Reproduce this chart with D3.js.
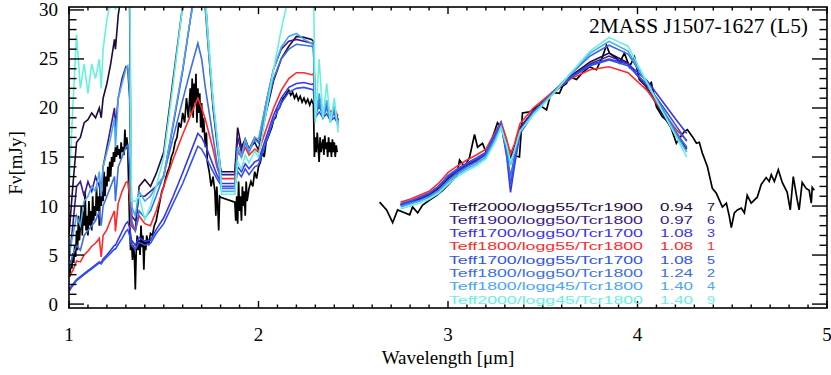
<!DOCTYPE html>
<html><head><meta charset="utf-8">
<script src="https://cdn.jsdelivr.net/npm/d3@7"></script>
<style>body{margin:0;background:#fff}svg{display:block}</style>
</head><body>
<svg id="c" width="831" height="375"></svg>
<script>
// ---------- DATA ----------
const title = "2MASS J1507-1627 (L5)";
const xTicks = [1, 2, 3, 4, 5];
const yTicks = [0, 5, 10, 15, 20, 25, 30];

// model wavelength grids (micron)
const wL = [1.00,1.02,1.04,1.06,1.08,1.10,1.12,1.14,1.16,1.17,1.18,1.20,1.22,1.24,1.245,1.26,1.28,1.30,1.31,1.32,1.33,1.35,1.37,1.40,1.43,1.46,1.50,1.55,1.60,1.64,1.68,1.70,1.72,1.74,1.76,1.78,1.80,1.805,1.875,1.89,1.91,1.93,1.95,1.98,2.00,2.04,2.08,2.12,2.16,2.20,2.24,2.28,2.29,2.30,2.32,2.34,2.36,2.38,2.40,2.42];
const wR = [2.75,2.80,2.85,2.90,2.95,3.00,3.05,3.10,3.15,3.20,3.25,3.28,3.31,3.33,3.35,3.38,3.45,3.55,3.65,3.75,3.85,3.95,4.05,4.15,4.20,4.26];

// model fluxes (mJy)
const m2000g55L = [7.0,12.0,16.5,17.0,18.5,18.8,19.5,19.0,20.0,19.0, 21.0,22.5,24.5,27.0,26.0,29.5,32,34,34,30, 8.0,7.5,12.0,12.7,12.0,13.3,15.5,23.0,30.5,34, 37,36,31,25.5,20.5,17.0,13.8,13.5,13.5,18.0, 16.0,16.8,15.8,16.5,15.7,19.5,22.8,25.0,26.3,27.3, 27.2,27.0,26.8,19.8,20.8,19.5,20.3,19.0,19.8,18.8];
const m1900g50L = [4.5,8.0,12.0,12.5,11.0,12.5,11.5,13.0,12.0,11.0, 14.0,16.0,18.0,20.0,18.0,21.0,23.0,24.2,24.0,21.0, 9.0,8.5,11.0,11.0,11.5,12.0,13.0,18.3,23.8,29.0, 34,33,30,25,20.0,16.5,13.5,13.2,13.2,17.0, 15.5,16.8,15.8,17.0,16.5,20.5,24.0,26.0,26.8,27.0, 26.8,26.6,26.5,19.5,21.0,19.3,20.5,19.0,20.0,18.6];
const m1700g50L = [1.5,2.0,2.5,2.8,3.1,3.4,3.7,4.0,4.3,4.2, 4.6,5.0,5.5,6.0,6.0,6.6,7.4,8.2,8.4,7.8, 6.5,6.0,6.8,6.4,6.5,7.6,8.8,11.0,13.4,15.4, 17.4,17.0,16.2,15.2,14.2,13.2,12.5,12.3,12.3,14.0, 13.5,14.3,13.8,14.5,14.7,17.0,19.3,21.0,22.1,22.5, 22.6,22.4,22.5,19.5,20.1,19.5,19.9,19.2,19.5,18.8];
const m1800g55L = [2.8,3.4,4.4,4.3,5.0,5.4,5.9,6.2,6.7,4.8, 7.0,7.6,8.6,9.5,7.4,10.3,11.5,12.4,12.5,11.0, 8.0,7.5,9.0,8.2,8.0,9.5,12.0,14.8,17.3,19.2, 21.0,20.0,18.8,17.3,15.8,14.0,13.0,12.8,12.8,15.5, 15.0,16.0,15.2,15.8,15.5,17.8,20.0,21.8,23.0,23.6, 23.6,23.4,23.5,20.0,20.6,19.8,20.3,19.6,19.9,19.2];
const m1700g55L = [1.3,1.9,2.4,2.7,3.0,3.3,3.6,3.9,4.2,4.1, 4.4,4.8,5.2,5.6,5.6,6.1,6.7,7.4,7.6,7.0, 6.0,5.6,6.3,6.0,6.2,7.2,8.2,10.3,12.3,14.2, 16.1,15.8,15.1,14.3,13.5,12.8,12.2,12.0,12.0,13.5, 13.0,13.8,13.2,14.0,14.2,16.5,18.8,20.5,21.6,22.0, 22.1,21.9,21.8,19.0,19.6,19.0,19.4,18.7,19.0,18.4];
const m1800g50L = [3.5,5.0,6.0,5.5,7.0,7.5,8.0,8.5,9.5,8.0, 10.0,11.0,12.0,13.0,10.5,14.0,15.0,16.0,16.2,14.0, 8.5,7.5,9.5,8.8,9.5,11.0,13.2,17.0,20.8,23.8, 26.6,25.0,22.0,19.5,17.0,14.5,12.5,11.8,11.8,16.0, 15.0,16.5,15.5,16.8,16.5,20.0,23.0,25.0,26.0,26.5, 26.4,26.3,26.2,19.2,20.5,19.0,20.0,18.8,19.5,18.3];
const m1800g45L = [5.0,7.0,9.0,8.0,10.5,11.0,12.0,11.5,13.5,11.0, 14.0,15.5,17.0,19.0,16.0,21.0,22.5,24.0,24.3,22.0, 10.0,9.0,11.5,10.5,11.0,12.0,13.0,18.5,24.0,29.0, 33,33,30,25,20.5,17.0,13.0,11.5,11.5,16.0, 15.0,16.8,15.6,17.0,16.8,20.5,24.0,26.2,27.3,27.6, 27.0,26.6,26.3,19.0,21.5,19.0,20.8,18.5,20.2,18.0];
const m2000g45L = [11.5,20.0,27.5,22.0,24.5,21.5,24.5,23.0,25.0,22.0, 26.0,29.0,31,33,30,35,36,37,37,34, 10.5,10.5,11.0,8.6,10.0,12.0,15.0,22.5,30.5,34, 36,35,31,26,21,17.5,13.5,11.2,11.2,14.5, 13.8,15.2,14.4,15.6,15.0,19.5,24.0,28.0,31.5,33, 33,33,33,18.5,25.0,19.0,22.5,18.5,21.0,17.5];

const m2000g55R = [10.1,10.4,10.7,11.1,11.8,12.8,13.5,14.1,14.6,15.3,17.1,18.3,16.5,14.8,16.0,18.0,19.7,21.6,23.3,24.7,25.6,24.6,22.0,18.8,17.3,15.8];
const m1900g50R = [10.1,10.4,10.8,11.2,11.9,12.9,13.6,14.2,14.7,15.4,17.2,18.3,16.3,14.5,15.8,17.9,19.7,21.5,23.2,24.5,25.3,24.5,22.1,19.0,17.5,16.0];
const m1700g50R = [10.2,10.5,10.9,11.3,12.0,13.0,13.7,14.3,14.8,15.4,17.3,18.4,15.0,11.4,14.0,17.4,19.4,21.4,23.2,24.4,25.0,24.5,22.8,20.2,18.9,17.4];
const m1800g55R = [10.4,10.7,11.1,11.5,12.3,13.4,14.1,14.7,15.2,15.8,17.6,18.6,16.8,15.3,16.3,18.4,20.0,21.6,23.0,23.9,24.2,23.6,21.8,19.2,17.9,16.7];
const m1700g55R = [10.2,10.5,10.9,11.3,12.0,13.1,13.8,14.4,14.9,15.5,17.4,18.5,15.4,12.2,14.5,17.6,19.6,21.5,23.1,24.3,24.9,24.3,22.4,19.7,18.3,16.6];
const m1800g50R = [10.0,10.3,10.6,11.0,11.6,12.6,13.4,14.0,14.5,15.2,17.0,18.2,15.5,13.0,15.0,17.6,19.5,21.5,23.5,25.3,26.4,25.5,22.6,19.3,17.7,15.9];
const m1800g45R = [9.9,10.2,10.5,10.9,11.5,12.4,13.2,13.8,14.3,15.0,16.8,18.1,16.0,14.2,15.5,17.7,19.4,21.4,23.6,25.6,26.8,25.8,22.5,19.1,17.4,15.5];
const m2000g45R = [9.7,10.0,10.3,10.7,11.3,12.2,13.0,13.6,14.1,14.8,16.6,18.0,16.2,14.5,15.6,17.6,19.3,21.3,23.6,25.8,27.2,26.3,22.6,19.0,17.2,15.0];

// observed spectrum: wavelength, flux
const obsLw = [1.000,1.005,1.010,1.015,1.020,1.025,1.030,1.035,1.040,1.045,1.050,1.055,1.060,1.065,1.070,1.075,1.080,1.085,1.090,1.095,1.100,1.105,1.110,1.115,1.120,1.125,1.130,1.135,1.140,1.145,1.150,1.155,1.160,1.165,1.170,1.175,1.180,1.185,1.190,1.195,1.200,1.205,1.210,1.215,1.220,1.225,1.230,1.235,1.240,1.245,1.250,1.255,1.260,1.265,1.270,1.275,1.280,1.285,1.290,1.295,1.300,1.305,1.310,1.315,1.320,1.325,1.330,1.335,1.340,1.345,1.350,1.355,1.360,1.365,1.370,1.375,1.380,1.385,1.390,1.395,1.400,1.405,1.410,1.420,1.430,1.440,1.450,1.460,1.470,1.480,1.490,1.500,1.510,1.520,1.530,1.540,1.550,1.560,1.570,1.580,1.590,1.600,1.610,1.620,1.630,1.640,1.645,1.650,1.655,1.660,1.665,1.670,1.675,1.680,1.685,1.690,1.695,1.700,1.705,1.710,1.720,1.725,1.730,1.740,1.750,1.760,1.770,1.775,1.780,1.785,1.790,1.795,1.800,1.875,1.880,1.885,1.890,1.895,1.900,1.905,1.910,1.915,1.920,1.925,1.930,1.935,1.940,1.950,1.960,1.970,1.980,1.990,2.000,2.010,2.020,2.030,2.040,2.050,2.060,2.070,2.080,2.090,2.100,2.110,2.120,2.130,2.140,2.150,2.160,2.170,2.180,2.190,2.200,2.210,2.220,2.230,2.240,2.250,2.260,2.270,2.280,2.290,2.295,2.300,2.305,2.310,2.315,2.320,2.325,2.330,2.340,2.345,2.350,2.355,2.360,2.365,2.370,2.375,2.380,2.385,2.390,2.395,2.400,2.405,2.410,2.415];
const obsLf = [4.0,2.8,4.5,3.6,5.2,4.2,6.0,4.8,7.5,5.5,9.0,6.5,8.0,10.0,7.0,9.5,8.0,11.5,7.5,9.0,7.0,10.5,8.0,9.5,7.5,11.0,8.5,10.0,9.0,12.0,9.5,11.0,8.0,12.5,10.0,11.5,10.5,13.5,11.0,13.0,12.0,14.0,12.5,14.5,13.0,15.0,14.0,15.5,14.5,16.0,15.0,16.2,15.2,15.8,14.8,16.5,15.5,16.0,15.2,17.8,15.8,17.0,16.0,12.0,8.0,5.5,6.5,4.5,6.0,5.0,1.5,5.5,7.0,5.5,6.5,5.0,8.0,5.8,7.0,3.5,6.5,5.5,7.0,6.0,7.2,7.0,8.0,8.5,9.5,10.5,11.5,12.0,12.8,13.5,14.0,15.0,15.5,16.5,17.0,18.5,18.0,19.5,18.5,21.0,19.0,22.0,19.5,23.0,19.0,22.5,20.5,23.5,18.5,22.0,19.5,21.5,18.0,20.5,17.5,19.0,16.0,17.5,14.5,13.5,12.0,13.0,11.5,9.0,12.0,10.0,7.5,11.0,10.9,10.4,8.5,11.0,8.2,12.5,9.5,11.0,8.5,12.0,10.0,11.5,9.0,12.5,10.5,11.8,12.5,12.0,13.5,12.8,14.0,14.5,15.5,15.0,16.5,17.0,17.5,18.0,18.8,19.0,19.8,20.0,20.5,21.0,21.2,21.5,21.8,21.3,21.6,21.0,21.4,20.8,21.2,20.6,21.0,20.5,20.9,20.3,20.8,20.4,15.0,17.0,15.5,17.5,16.0,14.5,17.0,15.5,16.8,15.2,17.2,15.8,16.5,15.0,17.0,15.5,16.5,15.0,16.8,15.5,16.5,15.0,16.2,15.5];
const obsRw = [2.639,2.676,2.708,2.734,2.761,2.798,2.813,2.840,2.866,2.903,2.940,2.972,3.008,3.045,3.061,3.088,3.114,3.140,3.156,3.182,3.203,3.235,3.261,3.288,3.314,3.341,3.377,3.393,3.430,3.483,3.520,3.536,3.551,3.588,3.604,3.625,3.641,3.678,3.710,3.746,3.783,3.815,3.836,3.852,3.889,3.905,3.931,3.957,3.984,4.010,4.047,4.073,4.100,4.131,4.168,4.205,4.221,4.247,4.263,4.289,4.311,4.326,4.342,4.369,4.395,4.416,4.432,4.448,4.469,4.485,4.495,4.511,4.527,4.548,4.564,4.579,4.600,4.616,4.632,4.653,4.679,4.695,4.706,4.722,4.743,4.764,4.790,4.806,4.822,4.843,4.853,4.869,4.890,4.906,4.917,4.922,4.933];
const obsRf = [10.4,9.6,8.3,9.6,9.4,9.1,9.9,9.3,10.1,10.6,11.1,11.6,12.3,13.0,14.7,14.0,15.0,17.3,16.0,16.4,15.4,17.0,18.5,17.8,16.0,15.2,15.0,19.5,19.6,20.3,19.8,21.0,21.6,21.5,22.2,22.5,23.2,22.9,23.6,24.2,23.9,25.2,26.4,25.6,25.1,24.6,25.6,24.2,25.2,22.9,22.2,22.6,20.1,19.1,18.5,16.4,16.9,17.6,17.8,17.1,16.4,16.5,15.4,14.0,11.8,11.3,10.6,9.9,10.3,8.9,7.8,9.3,9.6,9.8,9.3,11.1,10.3,10.6,10.9,12.2,12.9,12.5,13.2,12.5,13.7,12.4,11.4,9.6,13.0,10.6,9.6,12.4,11.8,11.6,10.3,11.9,11.6];

const legendLabels = ["Teff2000/logg55/Tcr1900","Teff1900/logg50/Tcr1800","Teff1700/logg50/Tcr1700","Teff1800/logg55/Tcr1800","Teff1700/logg55/Tcr1700","Teff1800/logg50/Tcr1800","Teff1800/logg45/Tcr1800","Teff2000/logg45/Tcr1800"];
const legendScale = ["0.94","0.97","1.08","1.08","1.08","1.24","1.40","1.40"];
const legendRank = ["7","6","3","1","5","2","4","9"];
const colors = ["#1f0a3d","#3b1a8f","#3a34f0","#ff2a2a","#2e54e8","#3d6ee6","#4aa6f0","#68f0df"];

// ---------- CHART ----------
const svg = d3.select("#c");
const X0 = 69, X1 = 827, Y0 = 7, Y1 = 308;
const x = d3.scaleLinear().domain([1, 5]).range([X0, X1]);
const y = d3.scaleLinear().domain([-0.4, 30.3]).range([Y1, Y0]);

svg.append("clipPath").attr("id","pc").append("rect")
  .attr("x", X0).attr("y", Y0).attr("width", X1 - X0).attr("height", Y1 - Y0);

const plot = svg.append("g").attr("clip-path","url(#pc)");
const line = d3.line().x(d => x(d[0])).y(d => y(d[1]));
const zip = (a, b) => a.map((v, i) => [v, b[i]]);

// observed
plot.append("path").datum(zip(obsLw, obsLf)).attr("d", line)
  .attr("fill","none").attr("stroke","#000").attr("stroke-width",1.7);
plot.append("path").datum(zip(obsRw, obsRf)).attr("d", line)
  .attr("fill","none").attr("stroke","#000").attr("stroke-width",1.7);

const modelsL = [m2000g55L, m1900g50L, m1700g50L, m1800g55L, m1700g55L, m1800g50L, m1800g45L, m2000g45L];
const modelsR = [m2000g55R, m1900g50R, m1700g50R, m1800g55R, m1700g55R, m1800g50R, m1800g45R, m2000g45R];
modelsL.forEach((m, i) => {
  plot.append("path").datum(zip(wL, m)).attr("d", line)
    .attr("fill","none").attr("stroke", colors[i]).attr("stroke-width",1.6);
});
modelsR.forEach((m, i) => {
  plot.append("path").datum(zip(wR, m)).attr("d", line)
    .attr("fill","none").attr("stroke", colors[i]).attr("stroke-width",1.6);
});

// axes frame and ticks
const ax = svg.append("g").attr("stroke","#000").attr("stroke-width",1.4);
ax.append("rect").attr("x",X0).attr("y",Y0).attr("width",X1-X0).attr("height",Y1-Y0).attr("fill","none").attr("stroke-width",1.6);
const xMinor = d3.range(10, 51).map(v => v / 10);
xMinor.forEach(v => {
  const major = Math.abs(v - Math.round(v)) < 1e-9;
  const L = major ? 7 : 3.5;
  ax.append("line").attr("x1", x(v)).attr("x2", x(v)).attr("y1", Y1).attr("y2", Y1 - L);
  ax.append("line").attr("x1", x(v)).attr("x2", x(v)).attr("y1", Y0).attr("y2", Y0 + L);
});
d3.range(0, 31).forEach(v => {
  const major = v % 5 === 0;
  const L = major ? 15 : 7.5;
  ax.append("line").attr("x1", X0).attr("x2", X0 + L).attr("y1", y(v)).attr("y2", y(v));
  ax.append("line").attr("x1", X1).attr("x2", X1 - L).attr("y1", y(v)).attr("y2", y(v));
});

const serif = "'Liberation Serif','Times New Roman',serif";
svg.append("g").selectAll("text").data(xTicks).join("text")
  .attr("x", d => x(d)).attr("y", 341).attr("text-anchor","middle")
  .attr("font-family", serif).attr("font-size", 19).text(d => d);
svg.append("g").selectAll("text").data(yTicks).join("text")
  .attr("x", 58).attr("y", d => y(d) + 6.5).attr("text-anchor","end")
  .attr("font-family", serif).attr("font-size", 19).text(d => d);

svg.append("text").attr("x", x(3)).attr("y", 364).attr("text-anchor","middle")
  .attr("font-family", serif).attr("font-size", 19).text("Wavelength [μm]");
svg.append("text").attr("transform","translate(22,163) rotate(-90)").attr("text-anchor","middle")
  .attr("font-family", serif).attr("font-size", 19).text("Fν[mJy]");
svg.append("text").attr("x", 808).attr("y", 33).attr("text-anchor","end")
  .attr("font-family", serif).attr("font-size", 20.5)
  .attr("textLength", 219).attr("lengthAdjust","spacingAndGlyphs").text(title);

// legend
const lg = svg.append("g").attr("font-family","'Liberation Sans',Arial,sans-serif").attr("font-size",11.8);
legendLabels.forEach((t, i) => {
  const by = 210.5 + 13.3 * i;
  lg.append("text").attr("x", 449).attr("y", by).attr("fill", colors[i])
    .attr("textLength", 194).attr("lengthAdjust","spacingAndGlyphs").text(t);
  lg.append("text").attr("x", 660).attr("y", by).attr("fill", colors[i])
    .attr("textLength", 33).attr("lengthAdjust","spacingAndGlyphs").text(legendScale[i]);
  lg.append("text").attr("x", 707).attr("y", by).attr("fill", colors[i])
    .attr("textLength", 8).attr("lengthAdjust","spacingAndGlyphs").text(legendRank[i]);
});
</script>
</body></html>
